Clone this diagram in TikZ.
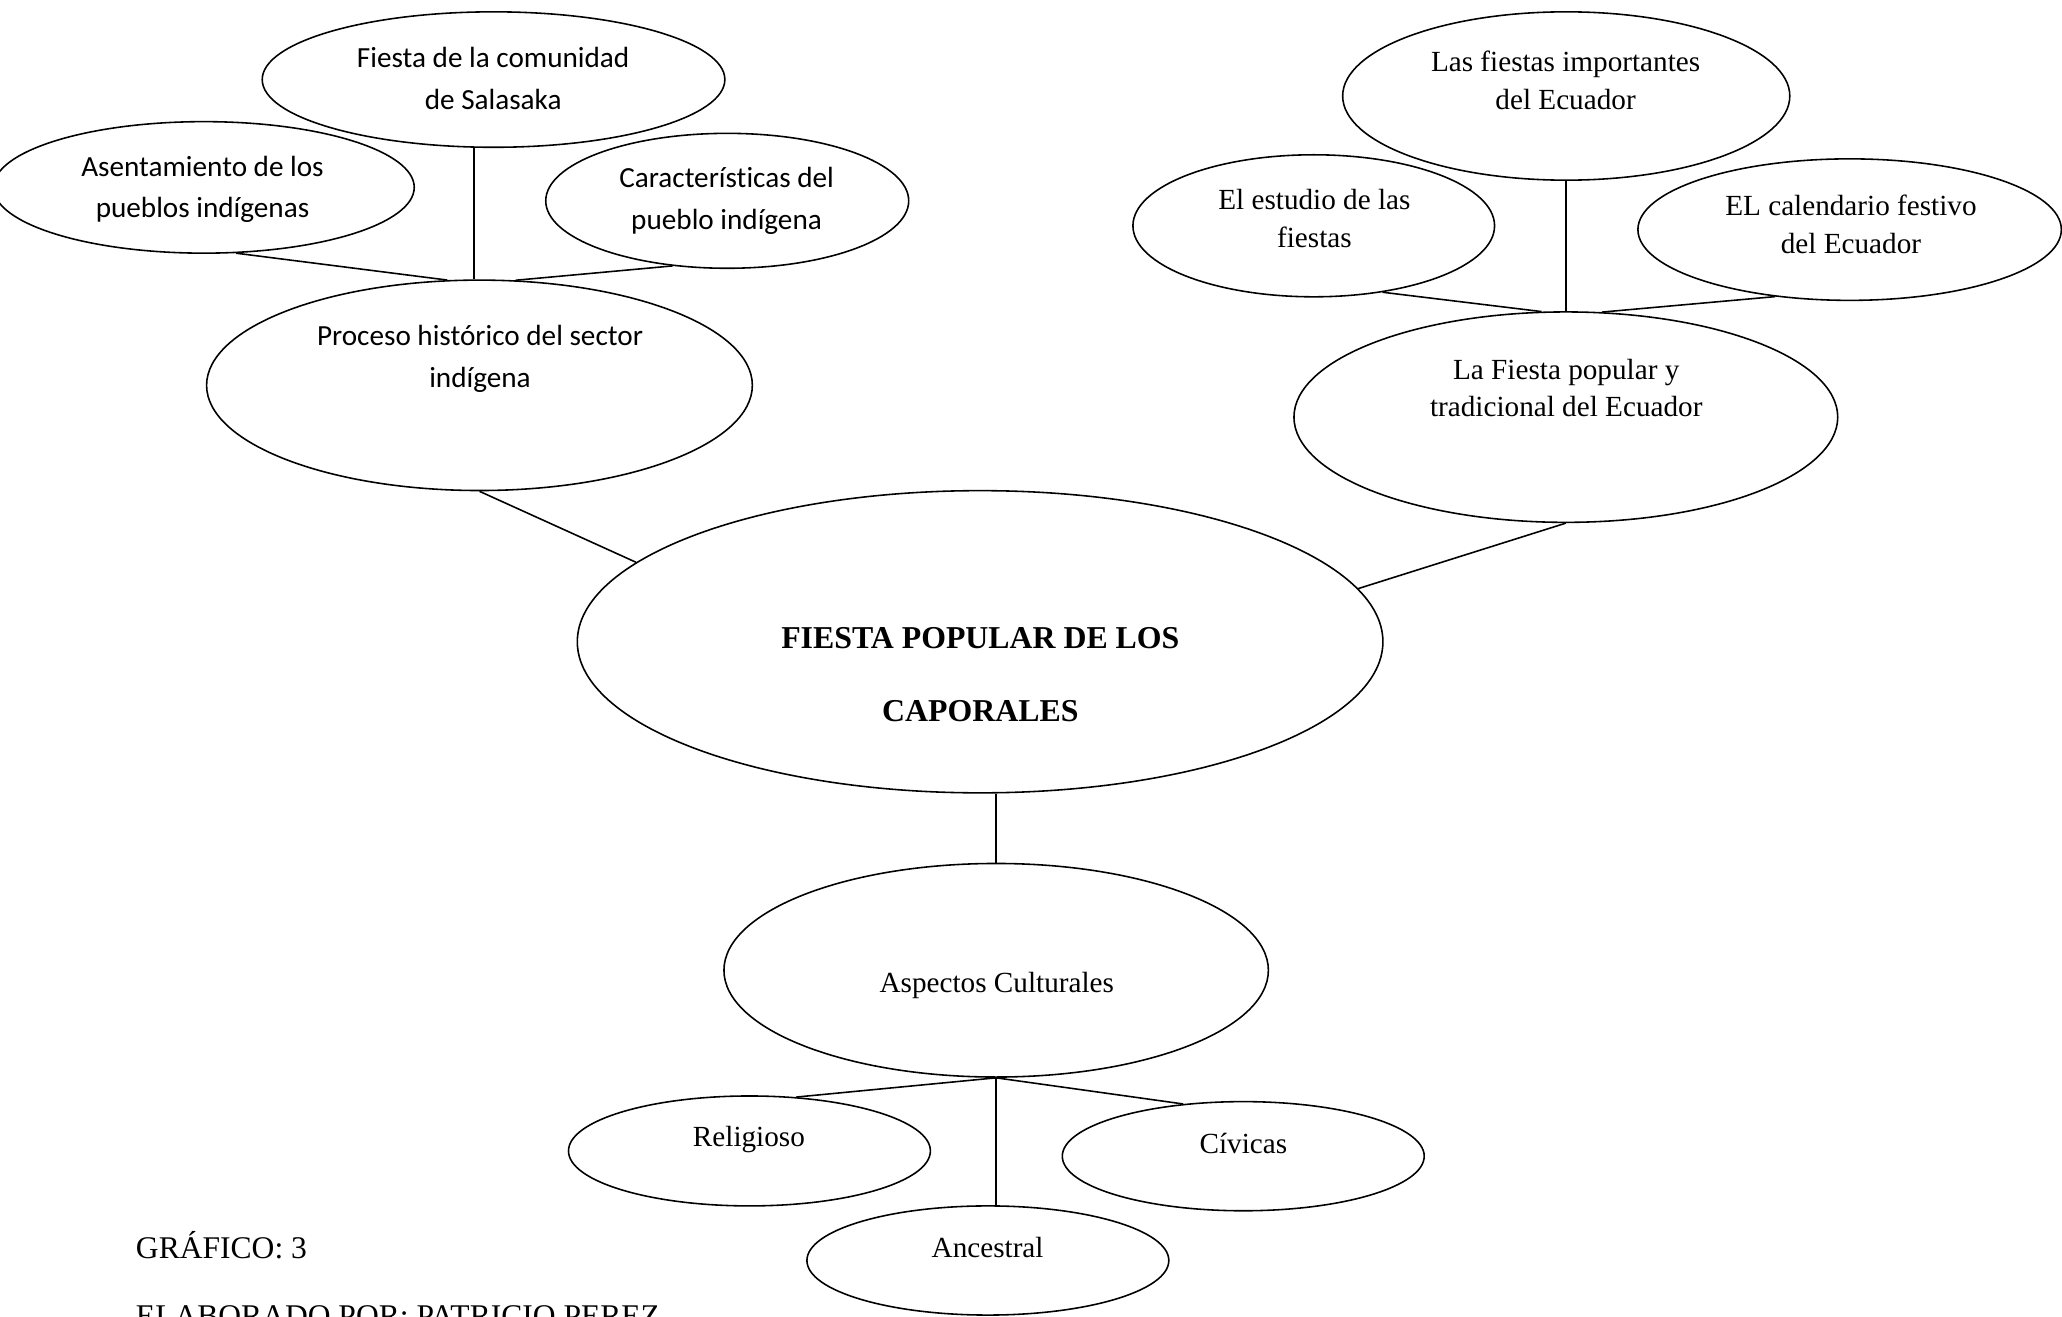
\documentclass[tikz,border=0pt]{standalone}
\usepackage{fontspec}
\setmainfont{Liberation Serif}
\newfontfamily\calibri{Carlito}[Ligatures=NoCommon]
\usetikzlibrary{shapes.geometric}

\begin{document}
\begin{tikzpicture}[x=0.5pt, y=-0.5pt,
bubble/.style={ellipse, draw, line width=0.6pt, inner sep=0pt},
times/.style={font=\fontsize{11.1}{14.3}\selectfont, align=center},
calib/.style={font=\calibri\fontsize{11.1}{15.9}\selectfont, align=center},
link/.style={line width=0.6pt}]
\useasboundingbox (0,0) rectangle (1568,1001);

% left branch
\node[bubble, minimum width=175.9pt, minimum height=51.5pt] (sal) at (375.3,60.5) {};
\node[bubble, minimum width=160pt, minimum height=50pt] (asen) at (155,142.5) {};
\node[bubble, minimum width=138pt, minimum height=51.3pt] (carac) at (553,152.7) {};
\node[bubble, minimum width=207.5pt, minimum height=80pt] (proc) at (364.6,293) {};
\node[calib] (sal-t) at (375,59.6) {Fiesta de la comunidad\\de Salasaka};
\node[calib] (asen-t) at (154,144) {Asentamiento de los\\pueblos indígenas};
\node[calib] (carac-t) at (552.5,152.7) {Características del\\pueblo indígena};
\node[calib] (proc-t) at (365,273) {Proceso histórico del sector\\indígena};

% centre
\node[bubble, minimum width=306.3pt, minimum height=114.9pt] (main) at (745.3,488) {};
\node[align=center, font=\bfseries\fontsize{12.1}{27.75}\selectfont] (main-t) at (745.5,512.8) {FIESTA POPULAR DE LOS\\CAPORALES};

% right branch
\node[bubble, minimum width=170pt, minimum height=64pt] (lasf) at (1191,73) {};
\node[bubble, minimum width=137.5pt, minimum height=54pt] (estu) at (999,171.7) {};
\node[bubble, minimum width=161pt, minimum height=53.8pt] (cal) at (1406.5,174.6) {};
\node[bubble, minimum width=206.75pt, minimum height=80pt] (laf) at (1190.7,317.2) {};
\node[times] (lasf-t) at (1190.5,61) {Las fiestas importantes\\del Ecuador};
\node[times] (estu-t) at (999.5,166) {El estudio de las\\fiestas};
\node[times] (cal-t) at (1407.5,170.5) {EL calendario festivo\\del Ecuador};
\node[times] (laf-t) at (1191,295) {La Fiesta popular y\\tradicional del Ecuador};

% bottom branch
\node[bubble, minimum width=207pt, minimum height=81.2pt] (asp) at (757.5,737.8) {};
\node[bubble, minimum width=137.6pt, minimum height=41.8pt] (rel) at (569.9,875.2) {};
\node[bubble, minimum width=137.6pt, minimum height=41.5pt] (civ) at (945.4,879.2) {};
\node[bubble, minimum width=137.6pt, minimum height=41.5pt] (anc) at (751.2,958.5) {};
\node[times] (asp-t) at (758,749.6) {Aspectos Culturales};
\node[times] (rel-t) at (569.5,866.5) {Religioso};
\node[times] (civ-t) at (945.5,869.5) {Cívicas};
\node[times] (anc-t) at (751,949) {Ancestral};

% connectors
\draw[link] (asen.-64.6) -- (proc.107.8);
\draw[link] (carac.-130.4) -- (proc.71.9);
\draw[link] (proc.93.9) -- (proc.93.9 |- sal.south);
\draw[link] (proc.south) -- (main.167.4);
\draw[link] (estu.-44) -- (laf.103.7);
\draw[link] (cal.-138.5) -- (laf.71.6);
\draw[link] (laf.north) -- (laf.north |- lasf.south);
\draw[link] (laf.south) -- (main.8.65);
\draw[link] (asp.north) -- (asp.north |- main.south);
\draw[link] (asp.south) -- (rel.49);
\draw[link] (asp.south) -- (civ.139);
\draw[link] (asp.south) -- (asp.south |- anc.north);

% caption
\node[anchor=base west, inner sep=0pt, font=\fontsize{12}{14}\selectfont] (graf) at (103,957) {GRÁFICO: 3};
\node[anchor=base west, inner sep=0pt, font=\fontsize{12}{14}\selectfont] (elab) at (103,1009) {ELABORADO POR: PATRICIO PEREZ};
\end{tikzpicture}
\end{document}
